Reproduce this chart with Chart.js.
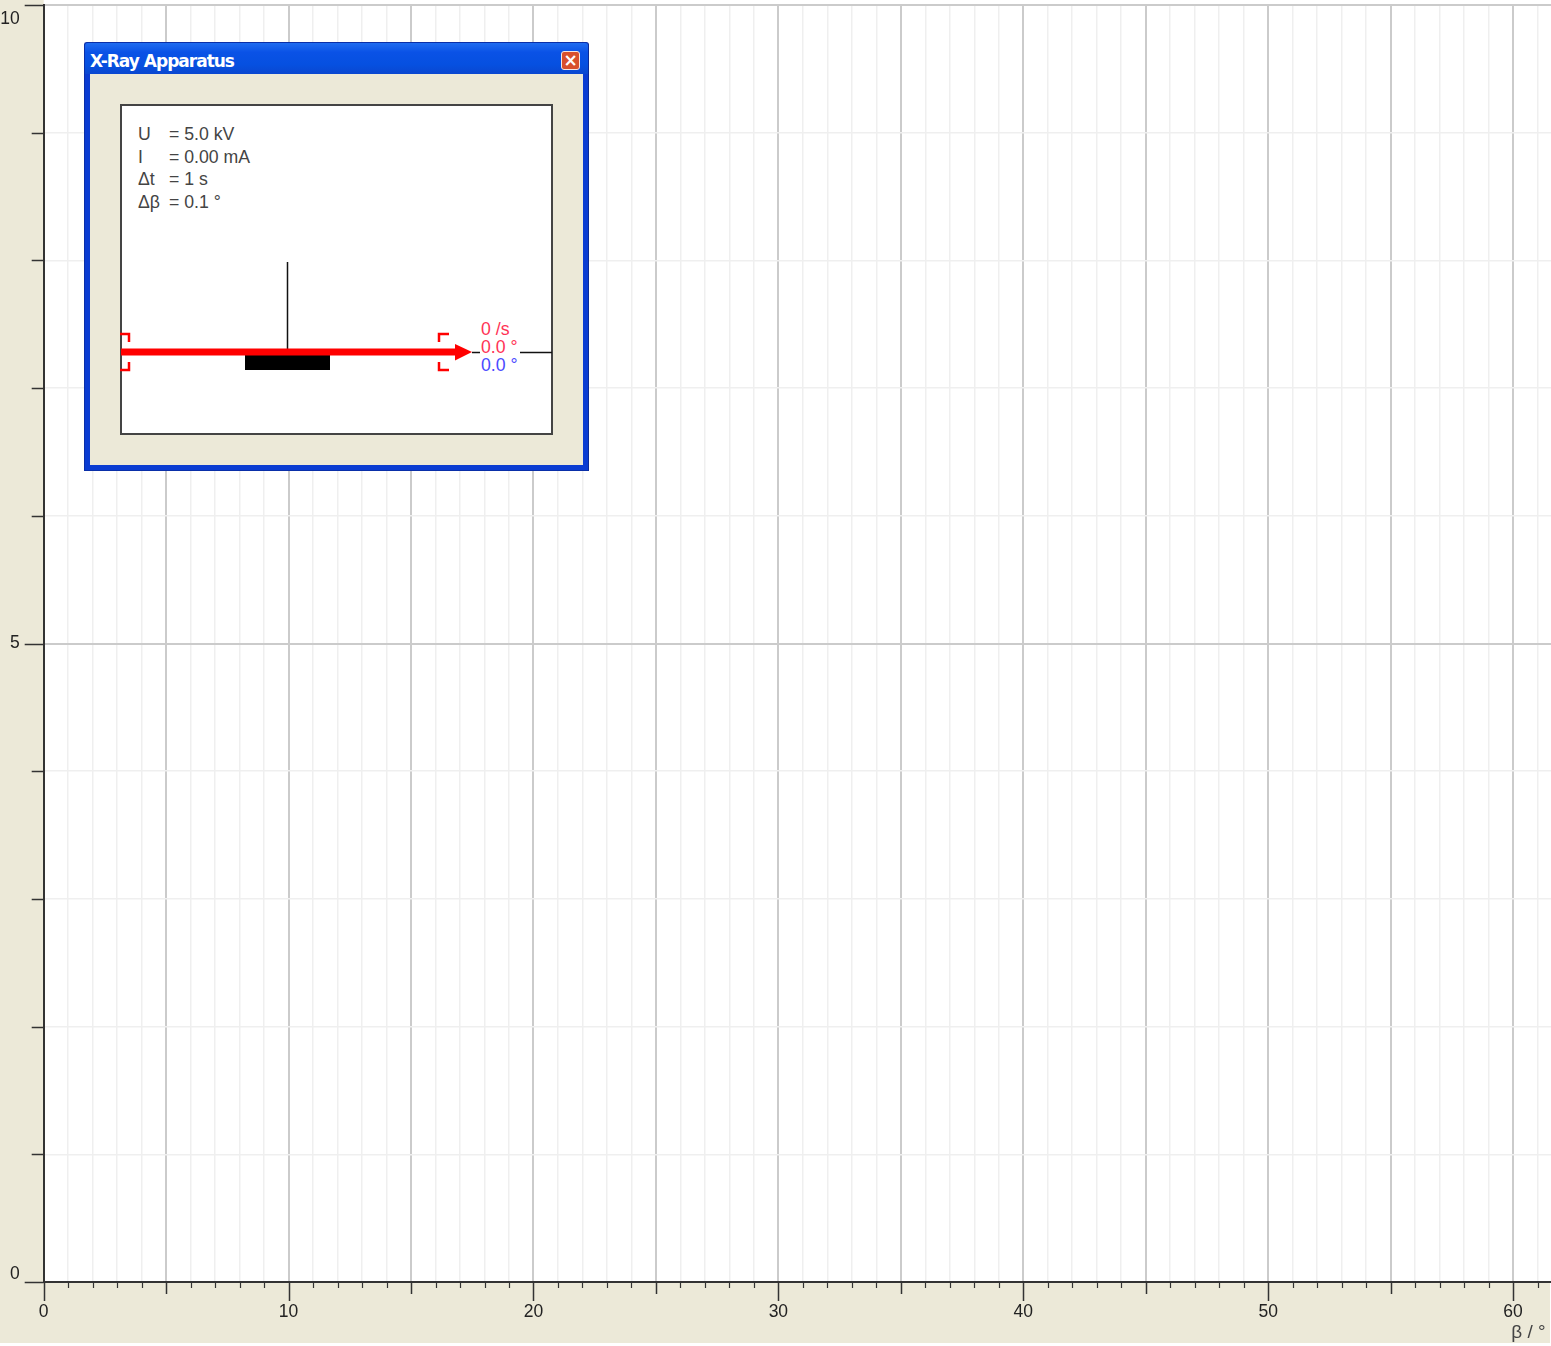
<!DOCTYPE html>
<html>
<head>
<meta charset="utf-8">
<title>X-Ray Apparatus</title>
<script src="https://cdn.jsdelivr.net/npm/chart.js@4/dist/chart.umd.js"></script>
<style>
  html, body { margin: 0; padding: 0; background: #fff; overflow: hidden; }
  #wrap { position: relative; width: 1551px; height: 1346px; font-family: "Liberation Sans", Arial, sans-serif; }
  canvas { position: absolute; left: 0; top: 0; }
  #win { position: absolute; left: 84px; top: 42px; width: 505px; height: 429px; box-sizing: border-box;
         background: #0a3cd2; border-radius: 3px 3px 0 0; border: 1px solid #0a2fa8; border-right-color: #0a2a98; }
  #bar { position: absolute; left: 0; top: 0; right: 0; height: 31px; border-radius: 3px 3px 0 0;
         background: linear-gradient(#1f6cf0, #0a52e6 30%, #0650e0 70%, #0a47d0); }
  #bar b { position: absolute; left: 5px; top: 8px; color: #fff; font: bold 17px "DejaVu Sans", sans-serif; letter-spacing: -1px; white-space: nowrap; }
  #close { position: absolute; left: 476px; top: 8px; width: 19px; height: 19px; box-sizing: border-box; border: 1px solid #f4e6e0;
           border-radius: 3px; background: #d8502c; color: #fff; font: bold 17px/16px "DejaVu Sans", sans-serif; text-align: center; }
  #body { position: absolute; left: 5px; top: 31px; width: 493px; height: 391px; background: #ece9d8; }
  #box { position: absolute; left: 30px; top: 30px; width: 433px; height: 331px; box-sizing: border-box; background: #fff; border: 2px solid #444; }
  #box svg { position: absolute; left: -2px; top: -2px; }
  .t { position: absolute; font-size: 17.7px; line-height: 20px; color: #444; white-space: nowrap; }
</style>
</head>
<body>
<div id="wrap">
  <canvas id="chart" width="1551" height="1346"></canvas>
  <div id="win">
    <div id="bar"><b>X-Ray Apparatus</b><div id="close">×</div></div>
    <div id="body">
      <div id="box">
        <svg width="433" height="331">
          <path d="M167.5 158V246M352 248.5H360M400 248.5H432" stroke="#111" stroke-width="1.5" fill="none"/>
          <rect x="125" y="251" width="85" height="15" fill="#000"/>
          <path d="M1 248H336" stroke="#f00" stroke-width="7"/>
          <path d="M335 240L352 248L335 256.5Z" fill="#f00"/>
          <path d="M0 230H9V238M0 266H9V258M329 230H319V238M329 266H319V258" stroke="#f00" stroke-width="2.5" fill="none"/>
        </svg>
      </div>
    </div>
  </div>
</div>
<script>
// measured counts: nothing has been recorded yet, the plot is empty
const angles = [];
const rates = [];

const xTickLabels = ['0', '10', '20', '30', '40', '50', '60'];
const yTickLabels = ['0', '5', '10'];
const xAxisLabel = 'β / °';

const apparatusNames = ['U', 'I', 'Δt', 'Δβ'];
const apparatusValues = ['= 5.0 kV', '= 0.00 mA', '= 1 s', '= 0.1 °'];
const readouts = ['0 /s', '0.0 °', '0.0 °'];
const readoutColors = ['#ff3355', '#ff3355', '#4a4aff'];

// text inside the apparatus window
const box = document.getElementById('box');
function addText(txt, x, y, color) {
  const el = document.createElement('div');
  el.className = 't';
  el.textContent = txt;
  el.style.left = x + 'px';
  el.style.top = y + 'px';
  if (color) el.style.color = color;
  box.appendChild(el);
}
apparatusNames.forEach((n, i) => {
  addText(n, 16, 18 + i * 22.7);
  addText(apparatusValues[i], 47, 18 + i * 22.7);
});
readouts.forEach((r, i) => addText(r, 359, 212.5 + i * 18, readoutColors[i]));

const BEIGE = '#ece9d8';
const AXIS = '#333';

// page colours behind the plot, and the three tick lengths of the original program
const frame = {
  id: 'frame',
  beforeDraw(chart) {
    const { ctx, chartArea: a } = chart;
    ctx.save();
    ctx.fillStyle = BEIGE;
    ctx.fillRect(0, 0, 1550, 1343);
    ctx.fillStyle = '#fff';
    ctx.fillRect(a.left, 0, a.right - a.left, a.bottom);
    ctx.restore();
  },
  afterDraw(chart) {
    const { ctx, scales } = chart;
    ctx.save();
    ctx.strokeStyle = AXIS;
    scales.x.ticks.forEach(t => {
      const px = Math.round(scales.x.getPixelForValue(t.value)) + 0.5;
      const len = t.value % 10 === 0 ? 19 : t.value % 5 === 0 ? 12 : 6;
      ctx.lineWidth = t.value % 5 === 0 ? 1.5 : 1.2;
      ctx.beginPath();
      ctx.moveTo(px, scales.x.top);
      ctx.lineTo(px, scales.x.top + len);
      ctx.stroke();
    });
    scales.y.ticks.forEach(t => {
      const py = Math.round(scales.y.getPixelForValue(t.value)) + 0.5;
      const len = t.value % 5 === 0 ? 19 : 12;
      ctx.lineWidth = 1.5;
      ctx.beginPath();
      ctx.moveTo(scales.y.right, py);
      ctx.lineTo(scales.y.right - len, py);
      ctx.stroke();
    });
    ctx.restore();
  }
};

new Chart(document.getElementById('chart'), {
  type: 'scatter',
  data: {
    datasets: [{ label: 'Rate', data: angles.map((a, i) => ({ x: a, y: rates[i] })) }]
  },
  plugins: [frame],
  options: {
    responsive: false,
    animation: false,
    devicePixelRatio: 1,
    layout: { autoPadding: false, padding: { top: 5, right: 0, bottom: 0, left: 0 } },
    plugins: { legend: { display: false }, tooltip: { enabled: false } },
    scales: {
      x: {
        type: 'linear',
        min: 0,
        max: 61.55,
        afterFit(s) { s.height = 64; s.paddingLeft = 0; s.paddingRight = 0; },
        border: { color: AXIS, width: 2 },
        grid: {
          drawTicks: false,
          color: c => c.tick && c.tick.value % 5 === 0 ? '#cbcbcb' : '#efefef',
          lineWidth: c => c.tick && c.tick.value % 5 === 0 ? 2 : 1.5
        },
        title: {
          display: true,
          text: xAxisLabel + '\u00a0',
          align: 'end',
          color: '#444',
          font: { family: 'Liberation Sans', size: 19 },
          padding: { top: 0, bottom: 2 }
        },
        ticks: {
          stepSize: 1,
          includeBounds: false,
          autoSkip: false,
          maxRotation: 0,
          padding: 20,
          color: '#222',
          font: { family: 'Liberation Sans', size: 17.5 },
          callback: v => xTickLabels.includes(String(v)) ? String(v) : ''
        }
      },
      y: {
        type: 'linear',
        min: 0,
        max: 10,
        afterFit(s) { s.width = 43.7; s.paddingTop = 0; s.paddingBottom = 0; },
        border: { color: AXIS, width: 2 },
        grid: {
          drawTicks: false,
          color: c => c.tick && c.tick.value % 5 === 0 ? '#cbcbcb' : '#efefef',
          lineWidth: c => c.tick && c.tick.value % 5 === 0 ? 2 : 1.5
        },
        ticks: {
          stepSize: 1,
          autoSkip: false,
          padding: 24,
          color: '#222',
          font: c => ({
            family: 'Liberation Sans',
            size: 17.5,
            lineHeight: c.tick && c.tick.value === 10 ? 1.65 : c.tick && c.tick.value === 0 ? 0.85 : 1.2
          }),
          // 0 and 10 sit just inside the axis ends, the blank line nudges them
          callback(v) {
            if (v === 10) return ['', yTickLabels[2]];
            if (v === 0) return [yTickLabels[0], ''];
            return v === 5 ? yTickLabels[1] : '';
          }
        }
      }
    }
  }
});
</script>
</body>
</html>
